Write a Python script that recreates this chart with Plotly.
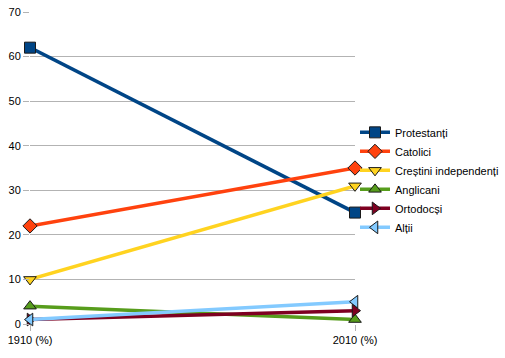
import plotly.graph_objects as go

categories = ["1910 (%)", "2010 (%)"]
series_names = ["Protestanți", "Catolici", "Creștini independenți", "Anglicani", "Ortodocși", "Alții"]
protestanti = [62, 25]
catolici = [22, 35]
crestini_independenti = [10, 31]
anglicani = [4, 1]
ortodocsi = [1, 3]
altii = [1, 5]

values = [protestanti, catolici, crestini_independenti, anglicani, ortodocsi, altii]
colors = ["#004586", "#ff420e", "#ffd320", "#579d1c", "#7e0021", "#83caff"]
symbols = ["square", "diamond", "triangle-down", "triangle-up", "triangle-right", "triangle-left"]

fig = go.Figure()
for name, vals, c, s in zip(series_names, values, colors, symbols):
    fig.add_trace(go.Scatter(
        x=categories, y=vals, name=name, mode="lines+markers",
        line=dict(color=c, width=3.5), cliponaxis=False,
        marker=dict(symbol=s, size=11, color=c, line=dict(color="#1a1a1a", width=1)),
    ))

fig.update_layout(
    width=505, height=358,
    margin=dict(l=30, r=150, t=12, b=34, autoexpand=False),
    paper_bgcolor="white", plot_bgcolor="white",
    font=dict(family="Liberation Sans, Arial, sans-serif", size=11, color="#000000"),
    legend=dict(x=1.0, y=0.462, xanchor="left", yanchor="middle",
                font=dict(size=11), itemwidth=30, tracegroupgap=0,
                bgcolor="rgba(0,0,0,0)"),
    showlegend=True,
)
fig.update_xaxes(type="category", range=[0, 1], showgrid=True, gridcolor="#b3b3b3",
                 gridwidth=1, ticks="outside", ticklen=6, tickcolor="#b3b3b3",
                 showline=False, zeroline=False, tickfont=dict(size=11), automargin=False)
fig.update_yaxes(range=[0, 70], dtick=10, showgrid=True, gridcolor="#b3b3b3",
                 ticks="outside", ticklen=6, tickcolor="#b3b3b3",
                 showline=False, zeroline=False, tickfont=dict(size=11), automargin=False,
                 ticklabeloverflow="allow")

fig.write_html("out.html", config={"displayModeBar": False},
               post_script="document.body.style.margin='0';")
